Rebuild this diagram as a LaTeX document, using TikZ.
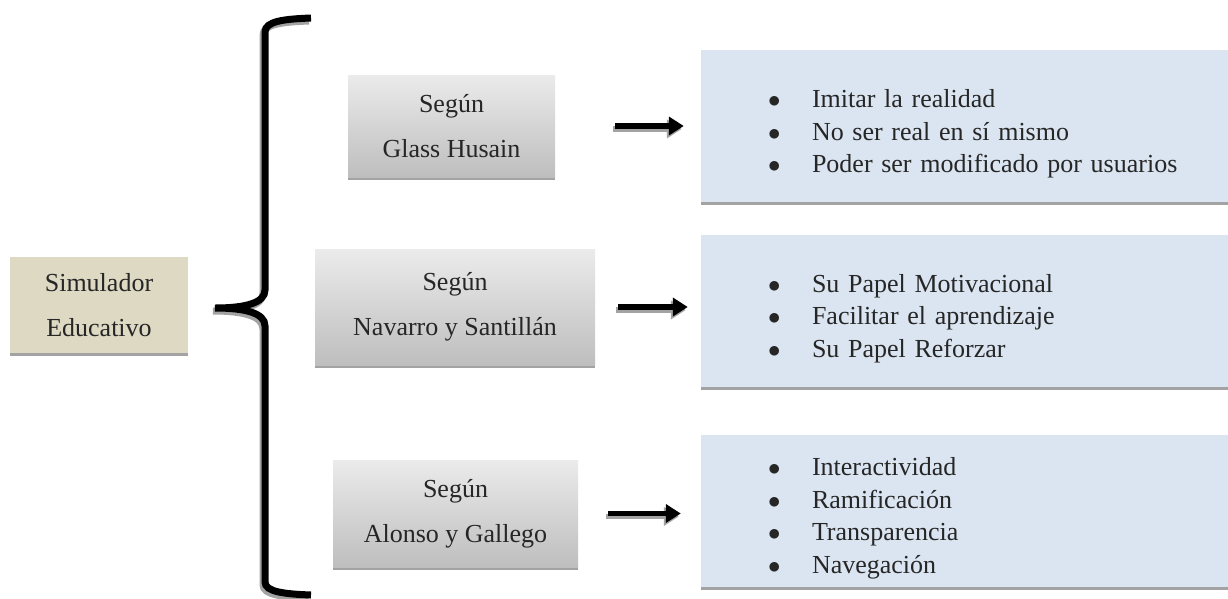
\documentclass[tikz,border=0pt]{standalone}
\usepackage{fontspec}
\setmainfont{Liberation Serif}
\usetikzlibrary{arrows.meta,shadows}
\definecolor{simfill}{HTML}{DDD9C3}
\definecolor{listfill}{HTML}{DBE5F1}
\definecolor{topgray}{HTML}{EBEBEB}
\definecolor{botgray}{HTML}{BEBEBE}
\definecolor{shadegray}{HTML}{A3A3A3}
\definecolor{txtgray}{HTML}{262626}
\newcommand{\itm}[1]{\makebox[44pt][l]{\fontsize{31}{31}\selectfont$\bullet$}#1}
\newcommand{\topgap}{\rule{0pt}{34pt}}

\begin{document}
\begin{tikzpicture}[
    x=1pt, y=-1pt,
    text=txtgray,
    bottomshadow/.style={
        drop shadow={shadow xshift=0pt, shadow yshift=-3pt, fill=shadegray, opacity=1}
    },
    simbox/.style={
        rectangle,
        fill=simfill,
        align=center,
        minimum width=178pt,
        minimum height=96pt,
        font=\fontsize{26}{45}\selectfont,
        bottomshadow
    },
    autorbox/.style={
        rectangle,
        top color=topgray,
        bottom color=botgray,
        align=center,
        font=\fontsize{26}{45}\selectfont,
        bottomshadow
    },
    listbox/.style={
        rectangle,
        fill=listfill,
        align=left,
        text width=440pt,
        inner xsep=67pt,
        minimum height=152pt,
        font=\fontsize{26}{32.5}\selectfont,
        bottomshadow
    },
    arrow/.style={-{Triangle[length=15pt,width=18pt]}, line width=5.5pt},
    bracket/.style={line width=7pt}
]
\useasboundingbox (0,0) rectangle (1228,598);

\node[simbox] (sim) at (99,305) {Simulador\\Educativo};

\node[autorbox, minimum width=207pt, minimum height=102pt] (g1) at (451.5,126)
{Según\\Glass Husain};

\node[autorbox, minimum width=280pt, minimum height=116pt] (g2) at (455,307)
{Según\\Navarro y Santillán};

\node[autorbox, minimum width=245pt, minimum height=107pt] (g3) at (455.5,513.5)
{Según\\Alonso y Gallego};

\node[listbox] (r1) at (988,126)
{\topgap\itm{Imitar la realidad}\\\itm{No ser real en sí mismo}\\\itm{Poder ser modificado por usuarios}};

\node[listbox] (r2) at (988,310.5)
{\topgap\itm{Su Papel Motivacional}\\\itm{Facilitar el aprendizaje}\\\itm{Su Papel Reforzar}};

\node[listbox] (r3) at (988,510.5)
{\topgap\itm{Interactividad}\\\itm{Ramificación}\\\itm{Transparencia}\\\itm{Navegación}};

\foreach \c/\dx/\dy in {shadegray/-2/3, black/0/0}{
  \draw[bracket, draw=\c, transform canvas={shift={(\dx,\dy)}}]
    (311,18) .. controls (285,19) and (265,21) .. (265,32)
    -- (265,290) .. controls (265,303) and (245,308) .. (215,308)
    .. controls (245,308) and (265,313) .. (265,326)
    -- (265,582) .. controls (265,592) and (285,594) .. (311,595);
}

\foreach \g/\r/\s/\e in {g1/r1/60/17, g2/r2/23/13, g3/r3/30/20}{
  \draw[arrow, draw=shadegray, fill=shadegray, transform canvas={shift={(-2,3)}},
        shorten <=\s pt, shorten >=\e pt] (\g) -- (\g -| \r.west);
  \draw[arrow, shorten <=\s pt, shorten >=\e pt] (\g) -- (\g -| \r.west);
}

\end{tikzpicture}
\end{document}
